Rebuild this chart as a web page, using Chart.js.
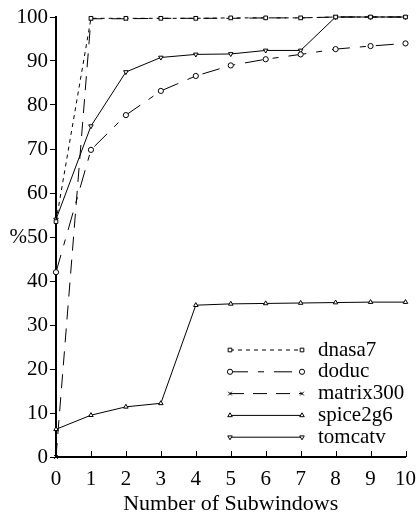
<!DOCTYPE html>
<html>
<head>
<meta charset="utf-8">
<script src="https://cdn.jsdelivr.net/npm/chart.js@4"></script>
<style>
  html, body { margin: 0; padding: 0; background: #fff; }
  #wrap { width: 418px; height: 512px; }
</style>
</head>
<body>
<div id="wrap"><canvas id="c" width="418" height="512"></canvas></div>
<script>
// 横軸：サブウィンドウ数
const subwindows = [0, 1, 2, 3, 4, 5, 6, 7, 8, 9, 10];

// 各ベンチマークの値 (%)
const dnasa7    = [53.5, 99.7, 99.7, 99.7, 99.7, 99.8, 99.8, 99.8, 100, 100, 100];
const doduc     = [42, 69.8, 77.7, 83.2, 86.6, 89, 90.4, 91.5, 92.7, 93.4, 94];
const matrix300 = [0, 99.6, 99.6, 99.7, 99.7, 99.7, 99.8, 99.8, 100, 100, 100];
const spice2g6  = [6.3, 9.5, 11.4, 12.2, 34.5, 34.8, 34.9, 35, 35.1, 35.2, 35.2];
const tomcatv   = [54, 75.2, 87.5, 90.8, 91.5, 91.6, 92.4, 92.4, 100, 100, 100];

const yTicks = [0, 10, 20, 30, 40, 50, 60, 70, 80, 90, 100];

const FONT = 'Liberation Serif';

function series(label, values, dash, pointStyle, rotation = 0) {
  return {
    label,
    data: subwindows.map((x, i) => ({ x, y: values[i] })),
    borderColor: '#000',
    borderWidth: 1,
    borderDash: dash,
    pointStyle,
    pointRotation: rotation,
    pointRadius: 2.6,
    pointBorderWidth: 1,
    pointBorderColor: '#000',
    pointBackgroundColor: '#fff',
    tension: 0,
    clip: false
  };
}

const datasets = [
  series('dnasa7', dnasa7, [4, 4], 'rect'),
  series('doduc', doduc, [18, 10, 6, 10], 'circle'),
  series('matrix300', matrix300, [14, 9], 'crossRot'),
  series('spice2g6', spice2g6, [], 'triangle'),
  series('tomcatv', tomcatv, [], 'triangle', 180)
];

/** x軸の内向き目盛りと凡例を描く */
const decorPlugin = {
  id: 'decor',
  afterDraw(chart) {
    const { ctx, chartArea, scales } = chart;
    ctx.save();
    ctx.strokeStyle = '#000';
    ctx.lineWidth = 1;
    subwindows.forEach(v => {
      const x = Math.round(scales.x.getPixelForValue(v)) + 0.5;
      ctx.beginPath();
      ctx.moveTo(x, chartArea.bottom);
      ctx.lineTo(x, chartArea.bottom - 6);
      ctx.stroke();
    });

    // 凡例
    const x1 = 230, x2 = 302, y0 = 350, step = 21.8;
    ctx.font = `21px "${FONT}"`;
    ctx.textBaseline = 'middle';
    chart.data.datasets.forEach((ds, i) => {
      const y = y0 + i * step;
      ctx.setLineDash(ds.borderDash);
      ctx.beginPath();
      ctx.moveTo(x1, y);
      ctx.lineTo(x2, y);
      ctx.stroke();
      ctx.setLineDash([]);
      [x1, x2].forEach(px => {
        ctx.fillStyle = '#fff';
        Chart.helpers.drawPoint(ctx, {
          pointStyle: ds.pointStyle, radius: 2.6, rotation: ds.pointRotation, borderWidth: 1
        }, px, y);
      });
      ctx.fillStyle = '#000';
      ctx.fillText(ds.label, 318, y);
    });
    ctx.restore();
  }
};

new Chart(document.getElementById('c'), {
  type: 'line',
  data: { datasets },
  options: {
    responsive: false,
    animation: false,
    layout: { padding: { top: 17, right: 11, left: 0, bottom: 0 } },
    plugins: { legend: { display: false }, tooltip: { enabled: false } },
    scales: {
      x: {
        type: 'linear',
        min: 0,
        max: 10,
        afterFit: s => { s.height = 55; },
        afterBuildTicks: s => { s.ticks = subwindows.map(v => ({ value: v })); },
        grid: { display: false },
        border: { display: true, color: '#000', width: 2 },
        ticks: { color: '#000', font: { family: FONT, size: 21 }, padding: 2, maxRotation: 0 },
        title: {
          display: true, text: 'Number of Subwindows', color: '#000',
          font: { family: FONT, size: 22 }, padding: { top: 0, bottom: -5 }
        }
      },
      y: {
        min: 0,
        max: 100,
        afterFit: s => { s.width = 56; },
        afterBuildTicks: s => { s.ticks = yTicks.map(v => ({ value: v })); },
        grid: { drawOnChartArea: false, drawTicks: true, tickLength: 6, color: '#000' },
        border: { display: true, color: '#000', width: 2 },
        ticks: {
          color: '#000', font: { family: FONT, size: 21 }, padding: 2,
          callback: v => v === 50 ? '%50' : String(v)
        }
      }
    }
  },
  plugins: [decorPlugin]
});
</script>
</body>
</html>
